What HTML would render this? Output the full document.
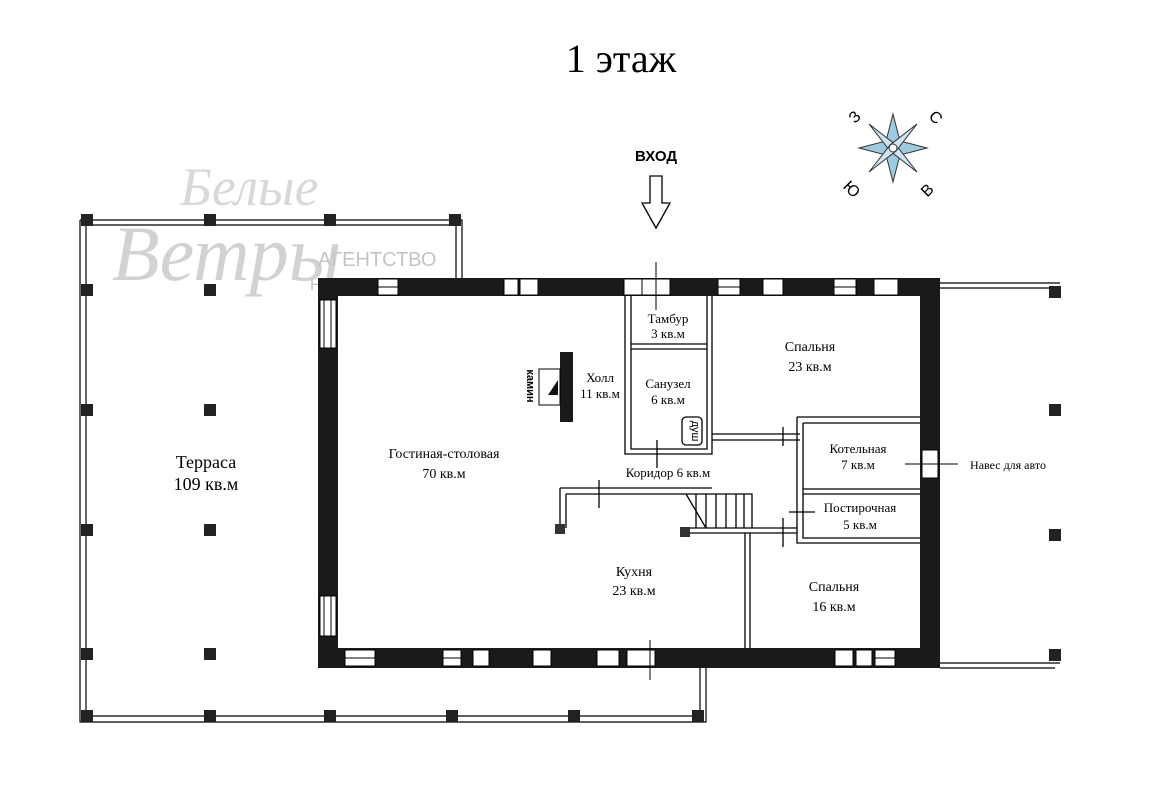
<!DOCTYPE html>
<html><head><meta charset="utf-8"><style>
body{margin:0;background:#fff;}
svg{display:block;font-family:"Liberation Serif",serif;}
</style></head><body>
<svg width="1159" height="802" viewBox="0 0 1159 802" xmlns="http://www.w3.org/2000/svg">
<rect width="1159" height="802" fill="#fff"/>
<text x="621" y="72" font-size="40" text-anchor="middle">1 этаж</text>

<!-- watermark -->
<g fill="#c8c8c8" font-family="Liberation Serif,serif">
<text x="112" y="280" font-size="78" font-style="italic" opacity="0.8">Ветры</text>
<text x="180" y="205" font-size="54" font-style="italic" opacity="0.7">Белые</text>
</g>
<g fill="#c4c4c4" font-family="Liberation Sans,sans-serif">
<text x="318" y="266" font-size="20">АГЕНТСТВО</text>
<text x="310" y="290" font-size="16">НЕДВИЖ</text>
</g>

<!-- compass -->
<g transform="translate(893,148)">
<polygon points="0,-34 7,-7 34,0 7,7 0,34 -7,7 -34,0 -7,-7" fill="#9ec9df" stroke="#333" stroke-width="1"/>
<polygon points="-24,-24 3,-3 24,24 -3,3" fill="#cfe6f2" stroke="#333" stroke-width="1" />
<polygon points="24,-24 3,3 -24,24 -3,-3" fill="#cfe6f2" stroke="#333" stroke-width="1"/>
<circle r="4" fill="#fff" stroke="#333"/>
</g>
<g font-family="Liberation Sans,sans-serif" font-size="16">
<text x="850" y="122" transform="rotate(-45 855 117)">З</text>
<text x="930" y="122" transform="rotate(45 935 117)">С</text>
<text x="844" y="193" transform="rotate(45 850 188)">Ю</text>
<text x="922" y="195" transform="rotate(-45 928 190)">В</text>
</g>

<!-- entrance -->
<text x="656" y="161" font-family="Liberation Sans,sans-serif" font-weight="bold" font-size="15" text-anchor="middle">ВХОД</text>
<polygon points="650,176 662,176 662,203 670,203 656,228 642,203 650,203" fill="#fff" stroke="#000" stroke-width="1.3"/>

<!-- terrace -->
<g fill="none" stroke="#000" stroke-width="1.2">
<path d="M80,220 H462 V280 M86,225 H456 V280"/>
<path d="M80,220 V722 H706 V668 M86,225 V716 H700 V668"/>
<path d="M940,283 H1060 M940,288 H1055 M940,663 H1060 M940,668 H1055"/>
</g>
<g fill="#222">
<rect x="81" y="214" width="12" height="12"/><rect x="204" y="214" width="12" height="12"/><rect x="324" y="214" width="12" height="12"/><rect x="449" y="214" width="12" height="12"/>
<rect x="81" y="284" width="12" height="12"/><rect x="204" y="284" width="12" height="12"/>
<rect x="81" y="404" width="12" height="12"/><rect x="204" y="404" width="12" height="12"/>
<rect x="81" y="524" width="12" height="12"/><rect x="204" y="524" width="12" height="12"/>
<rect x="81" y="648" width="12" height="12"/><rect x="204" y="648" width="12" height="12"/>
<rect x="81" y="710" width="12" height="12"/><rect x="204" y="710" width="12" height="12"/><rect x="324" y="710" width="12" height="12"/><rect x="446" y="710" width="12" height="12"/><rect x="568" y="710" width="12" height="12"/><rect x="692" y="710" width="12" height="12"/>
<rect x="1049" y="286" width="12" height="12"/><rect x="1049" y="404" width="12" height="12"/><rect x="1049" y="529" width="12" height="12"/><rect x="1049" y="649" width="12" height="12"/>
</g>

<!-- outer walls -->
<g fill="#1a1a1a">
<rect x="318" y="278" width="622" height="18"/>
<rect x="318" y="648" width="622" height="20"/>
<rect x="318" y="278" width="20" height="390"/>
<rect x="920" y="278" width="20" height="390"/>
</g>
<g fill="#fff" stroke="#000" stroke-width="1">
<rect x="378" y="279" width="20" height="16"/><rect x="504" y="279" width="14" height="16"/><rect x="520" y="279" width="18" height="16"/>
<rect x="624" y="279" width="18" height="16"/><rect x="642" y="279" width="28" height="16"/><rect x="718" y="279" width="22" height="16"/>
<rect x="763" y="279" width="20" height="16"/><rect x="834" y="279" width="22" height="16"/><rect x="874" y="279" width="24" height="16"/>
<rect x="345" y="650" width="30" height="16"/><rect x="443" y="650" width="18" height="16"/><rect x="473" y="650" width="16" height="16"/>
<rect x="533" y="650" width="18" height="16"/><rect x="597" y="650" width="22" height="16"/><rect x="627" y="650" width="28" height="16"/>
<rect x="835" y="650" width="18" height="16"/><rect x="856" y="650" width="16" height="16"/><rect x="875" y="650" width="20" height="16"/>
<rect x="320" y="300" width="16" height="48"/><rect x="320" y="596" width="16" height="40"/>
<rect x="922" y="450" width="16" height="28"/>
</g>
<g stroke="#000" stroke-width="1">
<line x1="324" y1="300" x2="324" y2="348"/><line x1="331" y1="300" x2="331" y2="348"/>
<line x1="324" y1="596" x2="324" y2="636"/><line x1="331" y1="596" x2="331" y2="636"/>
<line x1="345" y1="658" x2="375" y2="658"/><line x1="443" y1="658" x2="461" y2="658"/><line x1="875" y1="658" x2="895" y2="658"/>
<line x1="378" y1="287" x2="398" y2="287"/><line x1="718" y1="287" x2="740" y2="287"/><line x1="834" y1="287" x2="856" y2="287"/>
<line x1="656" y1="262" x2="656" y2="310"/><line x1="650" y1="640" x2="650" y2="680"/>
<line x1="905" y1="464" x2="958" y2="464"/>
</g>

<!-- interior walls -->
<g fill="none" stroke="#000" stroke-width="1.3">
<path d="M625,296 V454 H712 V296 M631,296 V449 H707 V296"/>
<path d="M631,344 H707 M631,349 H707"/>
<path d="M712,434 H800 M712,440 H800"/>
<path d="M797,417 H920 M803,423 H920 M797,417 V543 H920 M803,423 V538 H920"/>
<path d="M803,489 H920 M803,494 H920"/>
<path d="M560,488 H712 M566,494 H686 M560,488 V528 M566,494 V528"/>
<path d="M686,528 H797 M686,533 H797"/>
<path d="M745,533 V648 M750,533 V648"/>
<path d="M686,494 H752 V528"/>
<path d="M686,494 L706,528"/>
<path d="M696,494 V528 M706,494 V528 M716,494 V528 M726,494 V528 M736,494 V528 M744,494 V528"/>
<rect x="682" y="417" width="20" height="28" rx="4"/>
<line x1="657" y1="440" x2="657" y2="468"/><line x1="599" y1="480" x2="599" y2="508"/>
<line x1="783" y1="427" x2="783" y2="446"/><line x1="783" y1="518" x2="783" y2="547"/>
<line x1="789" y1="512" x2="815" y2="512"/>
</g>
<rect x="555" y="524" width="10" height="10" fill="#333"/><rect x="680" y="527" width="10" height="10" fill="#333"/>
<rect x="560" y="352" width="13" height="70" fill="#1a1a1a"/>
<rect x="539" y="369" width="21" height="36" fill="#fff" stroke="#000"/>
<polygon points="548,395 558,395 558,380" fill="#111"/>
<text x="527" y="386" font-family="Liberation Sans,sans-serif" font-weight="bold" font-size="11" text-anchor="middle" transform="rotate(90 527 386)">камин</text>
<text x="692" y="431" font-family="Liberation Sans,sans-serif" font-size="11" text-anchor="middle" transform="rotate(90 692 431)">душ</text>

<g font-size="13" text-anchor="middle">
<text x="668" y="323">Тамбур</text><text x="668" y="338">3 кв.м</text>
<text x="668" y="388">Санузел</text><text x="668" y="404">6 кв.м</text>
<text x="600" y="382">Холл</text><text x="600" y="398">11 кв.м</text>
<text x="810" y="351" font-size="14">Спальня</text><text x="810" y="371" font-size="14">23 кв.м</text>
<text x="858" y="453">Котельная</text><text x="858" y="469">7 кв.м</text>
<text x="860" y="512">Постирочная</text><text x="860" y="529">5 кв.м</text>
<text x="668" y="477">Коридор 6 кв.м</text>
<text x="444" y="458" font-size="14">Гостиная-столовая</text><text x="444" y="478" font-size="14">70 кв.м</text>
<text x="634" y="576" font-size="14">Кухня</text><text x="634" y="595" font-size="14">23 кв.м</text>
<text x="834" y="591" font-size="14">Спальня</text><text x="834" y="611" font-size="14">16 кв.м</text>
<text x="206" y="468" font-size="18">Терраса</text><text x="206" y="490" font-size="18">109 кв.м</text>
<text x="1008" y="469" font-size="12">Навес для авто</text>
</g>
</svg>
</body></html>
